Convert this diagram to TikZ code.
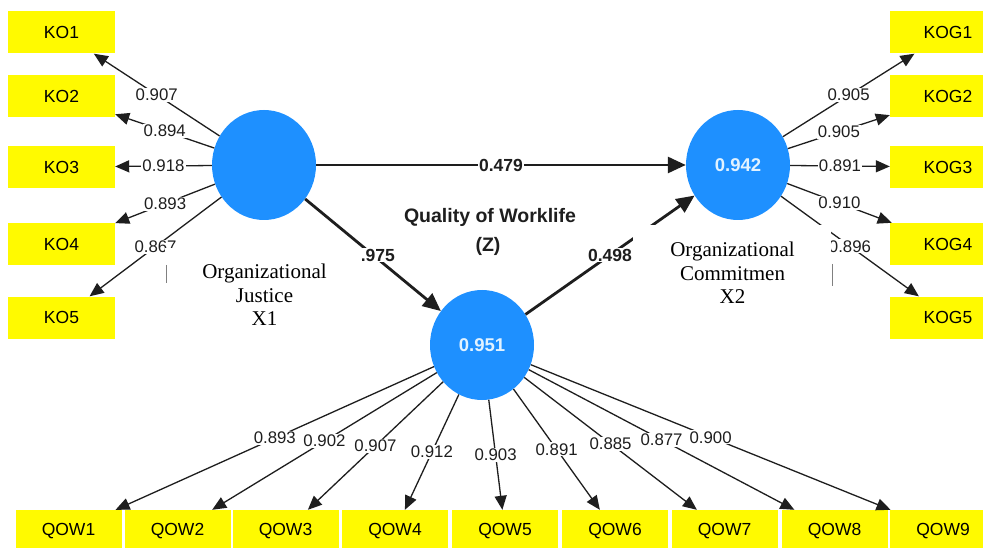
\documentclass[tikz,border=0pt]{standalone}
\usepackage{fontspec}
\setmainfont{Liberation Serif}
\setsansfont{Liberation Sans}
\usetikzlibrary{shapes.geometric,arrows.meta}
\definecolor{circblue}{RGB}{30,144,255}
\definecolor{boxyellow}{RGB}{255,250,0}
\definecolor{valtext}{RGB}{225,242,255}
\definecolor{linecol}{RGB}{30,30,30}
\begin{document}
\begin{tikzpicture}[x=1pt,y=-1pt,
  latent/.style={ellipse, fill=circblue, minimum width=104pt, minimum height=110pt, inner sep=0pt,
    text=valtext, font=\sffamily\bfseries\fontsize{18.5}{18.5}\selectfont},
  ind/.style={rectangle, fill=boxyellow, minimum width=107pt, minimum height=42pt, inner sep=0pt,
    font=\sffamily\fontsize{17.5}{17.5}\selectfont},
  indr/.style={ind, minimum width=116pt},
  indb/.style={ind, minimum width=106pt},
  load/.style={draw=linecol, line width=1.3pt, -{Triangle[length=14pt,width=12pt]}},
  path/.style={draw=linecol, line width=2.8pt, -{Triangle[length=18pt,width=16pt]}},
  lbl/.style={fill=white, inner sep=1pt, text=linecol, font=\sffamily\fontsize{16.8}{16.8}\selectfont},
  blbl/.style={fill=white, inner sep=1pt, text=linecol, font=\sffamily\bfseries\fontsize{17.5}{17.5}\selectfont},
  caption/.style={align=center, font=\rmfamily\fontsize{21}{23.5}\selectfont}
]
\useasboundingbox (0,0) rectangle (983,548);
\fill[white] (0,0) rectangle (983,548);

% latent variables
\node[latent] (X1) at (264,165) {};
\node[latent] (X2) at (738,165) {0.942};
\node[latent] (Z) at (482,345) {0.951};

% left indicators
\node[ind] (KO1) at (61.5,32.5) {KO1};
\node[ind] (KO2) at (61.5,96) {KO2};
\node[ind] (KO3) at (61.5,167) {KO3};
\node[ind] (KO4) at (61.5,244) {KO4};
\node[ind] (KO5) at (61.5,317.5) {KO5};

% right indicators
\node[indr] (KOG1) at (948,32.5) {KOG1};
\node[indr] (KOG2) at (948,96) {KOG2};
\node[indr] (KOG3) at (948,167) {KOG3};
\node[indr] (KOG4) at (948,244) {KOG4};
\node[indr] (KOG5) at (948,317.5) {KOG5};

% bottom indicators
\node[indb] (QOW1) at (68.5,531) {QOW1};
\node[indb] (QOW2) at (177.5,531) {QOW2};
\node[indb] (QOW3) at (285.5,531) {QOW3};
\node[indb] (QOW4) at (395,531) {QOW4};
\node[indb] (QOW5) at (505,531) {QOW5};
\node[indb] (QOW6) at (615,531) {QOW6};
\node[indb] (QOW7) at (724.5,531) {QOW7};
\node[indb] (QOW8) at (834.5,531) {QOW8};
\node[indb] (QOW9) at (943,531) {QOW9};

% loadings X1
\draw[load] (X1) -- node[lbl]{0.907} (KO1);
\draw[load] (X1) -- node[lbl]{0.894} (KO2);
\draw[load] (X1) -- node[lbl]{0.918} (KO3);
\draw[load] (X1) -- node[lbl]{0.893} (KO4);
\draw[load] (X1) -- node[lbl]{0.867} (KO5);

% loadings X2
\draw[load] (X2) -- node[lbl]{0.905} (KOG1);
\draw[load] (X2) -- node[lbl]{0.905} (KOG2);
\draw[load] (X2) -- node[lbl]{0.891} (KOG3);
\draw[load] (X2) -- node[lbl]{0.910} (KOG4);
\draw[load] (X2) -- node[lbl]{0.896} (KOG5);

% loadings Z
\draw[load] (Z) -- node[lbl]{0.893} (QOW1);
\draw[load] (Z) -- node[lbl]{0.902} (QOW2);
\draw[load] (Z) -- node[lbl]{0.907} (QOW3);
\draw[load] (Z) -- node[lbl]{0.912} (QOW4);
\draw[load] (Z) -- node[lbl]{0.903} (QOW5);
\draw[load] (Z) -- node[lbl]{0.891} (QOW6);
\draw[load] (Z) -- node[lbl]{0.885} (QOW7);
\draw[load] (Z) -- node[lbl]{0.877} (QOW8);
\draw[load] (Z) -- node[lbl]{0.900} (QOW9);

% structural paths
\draw[path] (X1) -- node[blbl]{0.479} (X2);
\draw[path] (X1) -- node[blbl]{0.975} (Z);
\draw[path] (Z) -- node[blbl]{0.498} (X2);

% Z title
\node[font=\sffamily\bfseries\fontsize{19.5}{19.5}\selectfont, text=linecol] (ztitle) at (490,217) {Quality of Worklife};
\node[font=\sffamily\bfseries\fontsize{19.5}{19.5}\selectfont, text=linecol] (zsub) at (488,246) {(Z)};

% white caption boxes covering parts of the diagram
\fill[white] (165,248) rectangle (362,336);
\draw[gray, line width=0.8pt] (166,265) -- (166,283);
\node[caption] (capX1) at (264.5,295) {Organizational\\Justice\\X1};

\fill[white] (633,225) rectangle (830.5,310);
\draw[gray, line width=0.8pt] (832.5,264) -- (832.5,286);
\node[caption] (capX2) at (732.5,273) {Organizational\\Commitmen\\X2};
\end{tikzpicture}
\end{document}
